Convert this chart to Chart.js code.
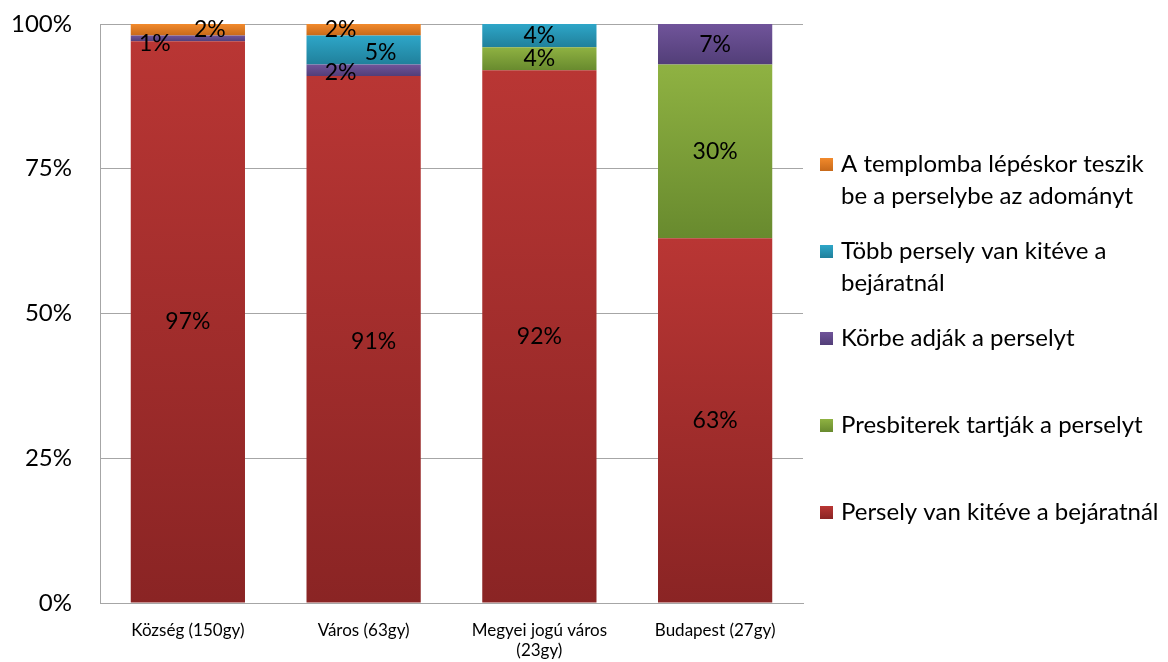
<!DOCTYPE html>
<html>
<head>
<meta charset="utf-8">
<script src="https://cdn.jsdelivr.net/npm/chart.js@4/dist/chart.umd.min.js"></script>
<style>
  html, body { margin: 0; padding: 0; background: #fff; }
  #wrap { width: 1168px; height: 662px; }
</style>
</head>
<body>
<div id="wrap"><canvas id="myChart" width="1168" height="662"></canvas></div>
<script>
// Adományozás módja településtípus szerint (%)
const categories = ['Község (150gy)', 'Város (63gy)', ['Megyei jogú város', '(23gy)'], 'Budapest (27gy)'];
const perselyKiteve = [97, 91, 92, 63];
const presbiterek = [0, 0, 4, 30];
const korbeAdjak = [1, 2, 0, 7];
const tobbPersely = [0, 5, 4, 0];
const templombaLepeskor = [2, 2, 0, 0];
const yTicks = [0, 25, 50, 75, 100];

const FONT = 'Lato';

// top / bottom colour of each series' gradient
const shades = [
  ['#b93634', '#8a2424'],
  ['#8fb242', '#688a2e'],
  ['#70549a', '#523e78'],
  ['#2ea6c8', '#20809b'],
  ['#f28a2c', '#c7691a']
];

// small shifts for the crowded labels at the top of the first two bars
const labelNudge = {
  '2-0': [-33, 5], '4-0': [22, 0],
  '4-1': [-23, 0], '3-1': [17, 3], '2-1': [-23, 2], '0-1': [10, 2]
};

function segmentGradient(ctx) {
  const chart = ctx.chart;
  const i = ctx.datasetIndex;
  const idx = ctx.dataIndex;
  const y = chart.scales && chart.scales.y;
  if (!chart.chartArea || !y || idx === undefined) return shades[i][0];
  let start = 0;
  for (let d = 0; d < i; d++) start += chart.data.datasets[d].data[idx];
  const end = start + chart.data.datasets[i].data[idx];
  const top = y.getPixelForValue(end);
  const bottom = y.getPixelForValue(start);
  if (!(bottom > top)) return shades[i][0];
  const g = chart.ctx.createLinearGradient(0, top, 0, bottom);
  g.addColorStop(0, shades[i][0]);
  g.addColorStop(1, shades[i][1]);
  return g;
}

const series = [
  { label: 'Persely van kitéve a bejáratnál', lines: ['Persely van kitéve a bejáratnál'], data: perselyKiteve },
  { label: 'Presbiterek tartják a perselyt', lines: ['Presbiterek tartják a perselyt'], data: presbiterek },
  { label: 'Körbe adják a perselyt', lines: ['Körbe adják a perselyt'], data: korbeAdjak },
  { label: 'Több persely van kitéve a bejáratnál', lines: ['Több persely van kitéve a', 'bejáratnál'], data: tobbPersely },
  { label: 'A templomba lépéskor teszik be a perselybe az adományt', lines: ['A templomba lépéskor teszik', 'be a perselybe az adományt'], data: templombaLepeskor }
];

const barLabels = {
  id: 'barLabels',
  afterDatasetsDraw(chart) {
    const ctx = chart.ctx;
    ctx.save();
    ctx.font = '23px ' + FONT;
    ctx.fillStyle = '#000';
    ctx.textAlign = 'center';
    ctx.textBaseline = 'middle';
    chart.data.datasets.forEach((ds, i) => {
      chart.getDatasetMeta(i).data.forEach((bar, j) => {
        const v = ds.data[j];
        if (!v) return;
        const n = labelNudge[i + '-' + j] || [0, 0];
        ctx.fillText(v + '%', bar.x + n[0], (bar.y + bar.base) / 2 + n[1]);
      });
    });
    ctx.restore();
  }
};

// legend on the right, reversed order, with wrapped text
const sideLegend = {
  id: 'sideLegend',
  afterDraw(chart) {
    const ctx = chart.ctx;
    ctx.save();
    ctx.font = '24px ' + FONT;
    ctx.textBaseline = 'middle';
    const items = chart.data.datasets.slice().reverse();
    items.forEach((ds, k) => {
      const i = chart.data.datasets.length - 1 - k;
      const cy = 164 + k * 87;
      const g = ctx.createLinearGradient(0, cy - 6, 0, cy + 7);
      g.addColorStop(0, shades[i][0]);
      g.addColorStop(1, shades[i][1]);
      ctx.fillStyle = g;
      ctx.fillRect(820, cy - 6, 13, 13);
      ctx.fillStyle = '#000';
      ds.lines.forEach((line, l) => ctx.fillText(line, 841, cy + l * 32));
    });
    ctx.restore();
  }
};

const chart = new Chart(document.getElementById('myChart').getContext('2d'), {
  type: 'bar',
  data: {
    labels: categories,
    datasets: series.map((s, i) => ({
      label: s.label,
      lines: s.lines,
      data: s.data,
      backgroundColor: segmentGradient,
      borderWidth: 0,
      barPercentage: 0.65,
      categoryPercentage: 1
    }))
  },
  options: {
    responsive: false,
    animation: false,
    layout: { padding: { top: 24, right: 365, bottom: 0, left: 0 } },
    plugins: {
      legend: { display: false },
      tooltip: { enabled: false }
    },
    scales: {
      x: {
        stacked: true,
        grid: { display: false, drawTicks: false },
        border: { color: '#a6a6a6', width: 1 },
        ticks: { color: '#000', font: { family: FONT, size: 17 }, padding: 17, maxRotation: 0 },
        afterFit(scale) { scale.height = 59; }
      },
      y: {
        stacked: true,
        min: 0,
        max: 100,
        afterBuildTicks(scale) { scale.ticks = yTicks.map(v => ({ value: v })); },
        // invisible tick marks keep the labels clear of the axis
        grid: { color: '#a6a6a6', drawTicks: true, tickLength: 28, tickColor: 'rgba(0,0,0,0)' },
        border: { color: '#a6a6a6', width: 1 },
        ticks: { color: '#000', font: { family: FONT, size: 24 }, padding: 0, callback: v => v + '%' },
        afterFit(scale) { scale.width = 100; }
      }
    }
  },
  plugins: [barLabels, sideLegend]
});
</script>
</body>
</html>
